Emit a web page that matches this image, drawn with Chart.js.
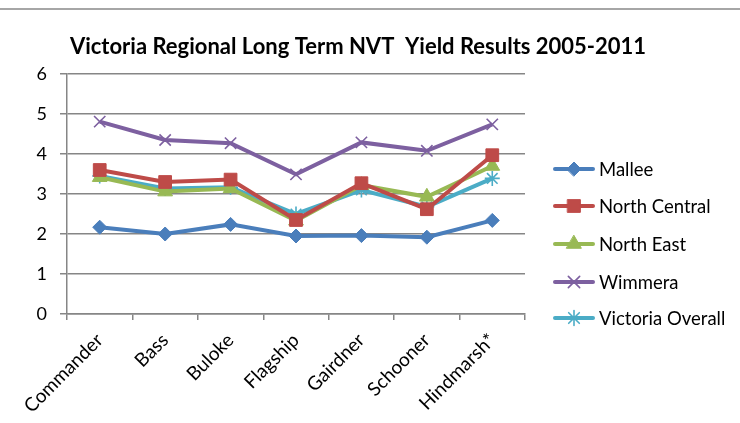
<!DOCTYPE html>
<html>
<head>
<meta charset="utf-8">
<script src="https://cdn.jsdelivr.net/npm/chart.js"></script>
<style>
  html, body { margin: 0; padding: 0; background: #fff; }
  #wrap { position: relative; width: 740px; height: 423px; }
  #topline { position: absolute; left: 0; top: 8px; width: 740px; height: 0; border-top: 2px solid #a6a6a6; }
</style>
</head>
<body>
<div id="wrap">
  <canvas id="yieldChart" width="740" height="423"></canvas>
  <div id="topline"></div>
</div>
<script>
const chartTitle = "Victoria Regional Long Term NVT  Yield Results 2005-2011";
const varieties = ["Commander", "Bass", "Buloke", "Flagship", "Gairdner", "Schooner", "Hindmarsh*"];
const yTicks = [0, 1, 2, 3, 4, 5, 6];

const mallee = [2.17, 2.0, 2.24, 1.95, 1.96, 1.92, 2.34];
const northCentral = [3.6, 3.3, 3.36, 2.35, 3.27, 2.62, 3.97];
const northEast = [3.42, 3.06, 3.14, 2.33, 3.22, 2.93, 3.7];
const wimmera = [4.81, 4.35, 4.27, 3.49, 4.29, 4.08, 4.74];
const victoriaOverall = [3.45, 3.14, 3.17, 2.5, 3.1, 2.68, 3.39];

const FONT = "Lato, 'DejaVu Sans', sans-serif";

function series(label, data, color, style, radius) {
  return {
    label, data,
    borderColor: color,
    backgroundColor: color,
    pointBackgroundColor: color,
    pointBorderColor: color,
    pointStyle: style,
    pointRadius: radius,
    pointHoverRadius: radius,
    pointBorderWidth: (style === "crossRot" || style === "star") ? 1.6 : 1,
    borderWidth: 4,
    tension: 0,
    fill: false
  };
}

const datasets = [
  series("Mallee", mallee, "#4a7ebb", "rectRot", 7),
  series("North Central", northCentral, "#be4b48", "rect", 9),
  series("North East", northEast, "#98b954", "triangle", 8.5),
  series("Wimmera", wimmera, "#7d60a0", "crossRot", 8),
  series("Victoria Overall", victoriaOverall, "#4bacc6", "star", 7.5)
];

// title + right side legend drawn by hand to match the spreadsheet look
const decor = {
  id: "decor",
  afterDraw(chart) {
    const ctx = chart.ctx;
    ctx.save();
    ctx.fillStyle = "#000";
    ctx.font = "bold 22px " + FONT;
    ctx.textAlign = "center";
    ctx.textBaseline = "middle";
    ctx.fillText(chartTitle, 358, 47);

    ctx.font = "18.5px " + FONT;
    ctx.textAlign = "left";
    const rows = [169, 206, 244, 282, 318];
    chart.data.datasets.forEach((ds, i) => {
      const y = rows[i];
      ctx.strokeStyle = ds.borderColor;
      ctx.lineWidth = 4;
      ctx.lineCap = "round";
      ctx.beginPath();
      ctx.moveTo(555, y);
      ctx.lineTo(593, y);
      ctx.stroke();
      ctx.fillStyle = ds.pointBackgroundColor;
      ctx.strokeStyle = ds.pointBorderColor;
      ctx.lineWidth = ds.pointBorderWidth;
      if (Chart.helpers && Chart.helpers.drawPoint) {
        Chart.helpers.drawPoint(ctx, { pointStyle: ds.pointStyle, radius: ds.pointRadius, rotation: 0, borderWidth: ds.pointBorderWidth }, 574, y);
      }
      ctx.fillStyle = "#000";
      ctx.fillText(ds.label, 599, y + 1);
    });
    ctx.restore();
  }
};

new Chart(document.getElementById("yieldChart"), {
  type: "line",
  data: { labels: varieties, datasets },
  plugins: [decor],
  options: {
    responsive: false,
    animation: false,
    layout: { padding: { top: 74, right: 215, left: 0, bottom: 0 } },
    plugins: { legend: { display: false }, title: { display: false }, tooltip: { enabled: false } },
    scales: {
      x: {
        offset: true,
        grid: { offset: true, drawOnChartArea: false, drawTicks: true, tickLength: 6, color: "#868686", lineWidth: 1.5 },
        border: { color: "#868686", width: 1.5 },
        ticks: { color: "#000", font: { family: FONT, size: 19 }, minRotation: 45, maxRotation: 45, padding: 9 },
        afterFit: s => { s.height = 109; }
      },
      y: {
        min: 0, max: 6,
        afterBuildTicks: s => { s.ticks = yTicks.map(v => ({ value: v })); },
        grid: { color: "#868686", lineWidth: 1.5, tickLength: 7 },
        border: { color: "#868686", width: 1.5 },
        ticks: { color: "#000", font: { family: FONT, size: 18 }, padding: 13 },
        afterFit: s => { s.width = 67; }
      }
    }
  }
});
</script>
</body>
</html>
